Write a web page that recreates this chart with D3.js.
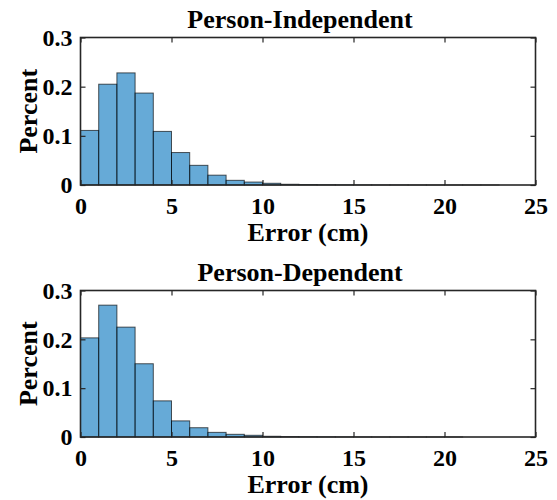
<!DOCTYPE html>
<meta charset="utf-8">
<title>Error histograms</title>
<style>
body { margin: 0; background: #fff; }
text { font-family: "Liberation Serif", "Times New Roman", serif; font-weight: bold; fill: #000; }
.frame { fill: none; stroke: #262626; stroke-width: 1.6px; }
.tick line { stroke: #262626; stroke-width: 1.2px; }
.bar { fill: #0072bd; fill-opacity: 0.6; stroke: #000; stroke-opacity: 0.65; stroke-width: 1px; }
</style>
<svg width="557" height="500"></svg>
<script src="https://d3js.org/d3.v7.min.js"></script>
<script>

// bin edges 0..25 step 1 (cm)
var binEdges = d3.range(0, 26, 1);

// fraction of samples in each 1 cm bin
var independentVals = [0.111, 0.205, 0.228, 0.187, 0.109, 0.066, 0.040, 0.020, 0.0095, 0.006, 0.0035, 0.0015, 0.001, 0.0006, 0.0004, 0.0003, 0.0002, 0.0002, 0.0001, 0.0001, 0.0001, 0.0001, 0.0001, 0, 0];
var dependentVals   = [0.203, 0.270, 0.225, 0.150, 0.074, 0.033, 0.019, 0.0095, 0.0055, 0.0035, 0.0015, 0.001, 0.0006, 0.0004, 0.0003, 0.0002, 0.0001, 0.0001, 0.0001, 0.0001, 0.0001, 0, 0, 0, 0];

var xTicks = [0, 5, 10, 15, 20, 25];
var yTicks = [0, 0.1, 0.2, 0.3];

var panels = [
  {title: "Person-Independent", vals: independentVals, top: 37.5, bottom: 185},
  {title: "Person-Dependent",   vals: dependentVals,   top: 290.5, bottom: 437}
];

var svg = d3.select("svg");
var left = 80.5, right = 535.5;

panels.forEach(function(p) {
  var x = d3.scaleLinear().domain([0, 25]).range([left, right]);
  var y = d3.scaleLinear().domain([0, 0.3]).range([p.bottom, p.top]);
  var g = svg.append("g");

  var bins = p.vals.map(function(v, i) { return {x0: binEdges[i], x1: binEdges[i + 1], v: v}; })
    .filter(function(d) { return d.v > 0; });

  g.selectAll(".bar")
    .data(bins)
    .enter().append("rect")
      .attr("class", "bar")
      .attr("x", function(d) { return x(d.x0); })
      .attr("width", function(d) { return x(d.x1) - x(d.x0); })
      .attr("y", function(d) { return y(d.v); })
      .attr("height", function(d) { return y(0) - y(d.v); });

  // axes, MATLAB style: ticks inward on all four sides
  var tl = 5;
  g.append("g").attr("transform", "translate(0," + p.bottom + ")")
    .call(d3.axisBottom(x).tickValues(xTicks).tickSize(-tl).tickPadding(12).tickFormat(d3.format("d")))
    .call(function(a) { a.select(".domain").remove(); a.selectAll("text").attr("font-size", 24); });
  g.append("g").attr("transform", "translate(0," + p.top + ")")
    .call(d3.axisTop(x).tickValues(xTicks).tickSize(-tl).tickFormat(""))
    .call(function(a) { a.select(".domain").remove(); });
  g.append("g").attr("transform", "translate(" + left + ",0)")
    .call(d3.axisLeft(y).tickValues(yTicks).tickSize(-tl).tickPadding(8)
      .tickFormat(function(d) { return d === 0 ? "0" : d3.format(".1f")(d); }))
    .call(function(a) { a.select(".domain").remove(); a.selectAll("text").attr("font-size", 24); });
  g.append("g").attr("transform", "translate(" + right + ",0)")
    .call(d3.axisRight(y).tickValues(yTicks).tickSize(-tl).tickFormat(""))
    .call(function(a) { a.select(".domain").remove(); });

  g.append("rect").attr("class", "frame")
    .attr("x", left).attr("y", p.top)
    .attr("width", right - left).attr("height", p.bottom - p.top);

  g.append("text")
    .attr("x", (left + right) / 2 - 8).attr("y", p.top - 10)
    .attr("text-anchor", "middle").attr("font-size", 26)
    .text(p.title);

  g.append("text")
    .attr("x", (left + right) / 2).attr("y", p.bottom + 56)
    .attr("text-anchor", "middle").attr("font-size", 26)
    .text("Error (cm)");

  g.append("text")
    .attr("transform", "translate(37," + (p.top + p.bottom) / 2 + ") rotate(-90)")
    .attr("text-anchor", "middle").attr("font-size", 26)
    .text("Percent");
});

</script>
